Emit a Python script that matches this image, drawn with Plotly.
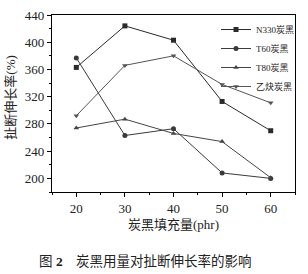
import plotly.graph_objects as go

x_vals = [20, 30, 40, 50, 60]
series_names = ["N330炭黑", "T60炭黑", "T80炭黑", "乙炔炭黑"]
n330 = [363, 424, 403, 313, 270]
t60 = [377, 263, 273, 208, 200]
t80 = [274, 287, 266, 254, 201]
yique = [292, 366, 380, 338, 311]
x_title = "炭黑填充量(phr)"
y_title = "扯断伸长率(%)"
caption = "图 <b>2</b>　炭黑用量对扯断伸长率的影响"

FONT = "Liberation Serif, Noto Sans CJK SC"
symbols = ["square", "circle", "triangle-up", "triangle-down"]
colors = ["#2a2a2a", "#3a3a3a", "#444444", "#555555"]

fig = go.Figure()
for name, ys, sym, c in zip(series_names, [n330, t60, t80, yique], symbols, colors):
    fig.add_trace(go.Scatter(x=x_vals, y=ys, name=name, mode="lines+markers",
                             line=dict(color=c, width=1),
                             marker=dict(symbol=sym, size=5, color=c)))

axis_common = dict(showline=True, linecolor="black", linewidth=1.2, mirror=True,
                   ticks="outside", ticklen=4, tickcolor="black", showgrid=False,
                   zeroline=False, automargin=False,
                   tickfont=dict(family=FONT, size=13, color="#222"))
fig.update_xaxes(range=[15, 65], tickvals=[20, 30, 40, 50, 60],
                 minor=dict(ticks="outside", ticklen=2, dtick=5, tick0=0, tickcolor="black"),
                 **axis_common)
fig.update_yaxes(range=[180, 440], tickvals=[200, 240, 280, 320, 360, 400, 440],
                 minor=dict(ticks="outside", ticklen=2, dtick=20, tick0=0, tickcolor="black"),
                 **axis_common)

fig.update_layout(
    width=308, height=274,
    margin=dict(l=52, r=13, t=15, b=82, autoexpand=False),
    paper_bgcolor="white", plot_bgcolor="white",
    font=dict(family=FONT, color="#222"),
    legend=dict(x=0.675, y=1.0, xanchor="left", yanchor="top",
                font=dict(family=FONT, size=9, color="#222"),
                bgcolor="rgba(0,0,0,0)", itemwidth=30, tracegroupgap=0),
    annotations=[
        dict(text=x_title, xref="paper", yref="paper", x=0.502, y=-0.185,
             xanchor="center", yanchor="middle",
             showarrow=False, font=dict(family=FONT, size=13, color="#222")),
        dict(text=y_title, xref="paper", yref="paper", x=-0.17, y=0.537, textangle=-90,
             xanchor="center", yanchor="middle",
             showarrow=False, font=dict(family=FONT, size=13, color="#222")),
        dict(text=caption, xref="paper", yref="paper", x=0.383, y=-0.39,
             xanchor="center", yanchor="middle",
             showarrow=False, font=dict(family=FONT, size=13.5, color="#222")),
    ],
)
fig.write_html("out.html")
